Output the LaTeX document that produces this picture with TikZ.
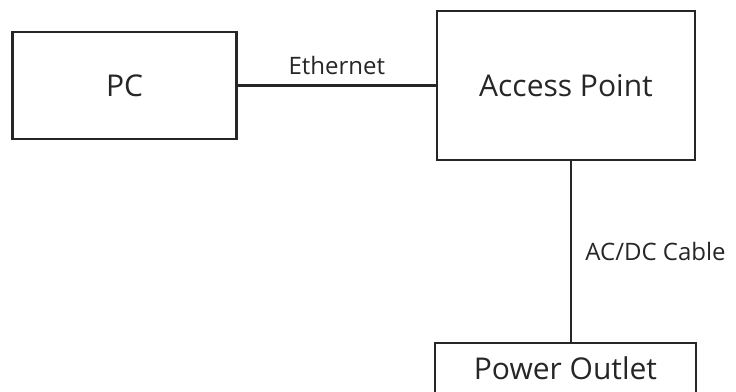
\documentclass[tikz,border=0pt]{standalone}
\usepackage{fontspec}
\setmainfont{Open Sans}
\usetikzlibrary{calc}
\definecolor{linegray}{HTML}{262626}
\definecolor{textgray}{HTML}{262626}
\begin{document}
\begin{tikzpicture}[x=1pt,y=-1pt,line width=2.8pt]
	\tikzstyle{every node} = [align=center,text=textgray]
	\tikzstyle{device} = [draw=linegray,rectangle,inner sep=0pt,font=\fontsize{30}{36}\selectfont]
	\tikzstyle{cable} = [inner sep=0pt,font=\fontsize{24}{29}\selectfont]
	\useasboundingbox (0,0) rectangle (736,391);
	
	\node (pc) [device,minimum width=224pt,minimum height=107pt] at (124.5,85.5) {PC};
	\node (ap) [device,minimum width=258pt,minimum height=149pt] at (566,85.5) {Access Point};
	\node (outlet) [device,minimum width=261pt,minimum height=50pt] at (565.5,368) {Power Outlet};
	
	\draw [linegray] (pc.east) -- (ap.west) node [cable,midway,above=9pt] {Ethernet};
	\draw [linegray] ([xshift=5pt]ap.south) -- ([xshift=5pt]ap.south |- outlet.north)
	node [cable,midway,right=13pt] {AC/DC Cable};
\end{tikzpicture}
\end{document}
